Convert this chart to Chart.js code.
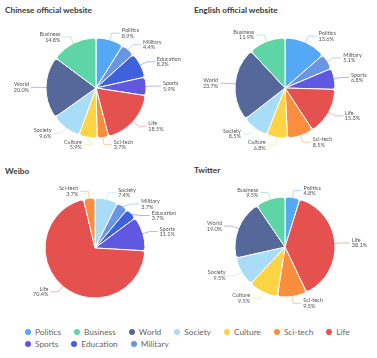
<!DOCTYPE html>
<html>
<head>
<meta charset="utf-8">
<script src="https://cdn.jsdelivr.net/npm/chart.js@4/dist/chart.umd.min.js"></script>
<style>
  html,body{margin:0;padding:0;background:#fff;width:377px;height:358px;overflow:hidden;position:relative;font-family:Lato,"Open Sans",sans-serif;}
  canvas{position:absolute;}
  .title{position:absolute;font-size:8.3px;font-weight:700;color:#3a3a3a;line-height:10px;white-space:nowrap;}
  #legend{position:absolute;left:25px;top:327px;width:340px;display:flex;flex-wrap:wrap;column-gap:13px;row-gap:3px;font-size:8.3px;color:#666;}
  .li{display:flex;align-items:center;height:9px;}
  .dot{width:6px;height:6px;border-radius:50%;margin-right:4px;}
</style>
</head>
<body>
<div class="title" style="left:5px;top:5px">Chinese official website</div>
<div class="title" style="left:194px;top:5px">English official website</div>
<div class="title" style="left:5px;top:166px">Weibo</div>
<div class="title" style="left:194px;top:165px">Twitter</div>
<canvas id="c1" width="190" height="150" style="left:1px;top:13px"></canvas>
<canvas id="c2" width="190" height="150" style="left:190px;top:13px"></canvas>
<canvas id="c3" width="190" height="150" style="left:0px;top:173px"></canvas>
<canvas id="c4" width="190" height="150" style="left:190px;top:172px"></canvas>
<div id="legend"></div>
<script>
// Legend categories and colours
const categories = ["Politics","Business","World","Society","Culture","Sci-tech","Life","Sports","Education","Military"];
const categoryColors = ["#55a8f3","#5dd5a6","#56679a","#a9dcf6","#fdd444","#fb8e3e","#e5514f","#6158e2","#3f61dc","#6a95e2"];

// Chinese official website (clockwise from top)
const chineseLabels = ["Politics","Military","Education","Sports","Life","Sci-tech","Culture","Society","World","Business"];
const chineseValues = [8.9,4.4,8.2,5.9,18.5,3.7,5.9,9.6,20.0,14.8];

// English official website
const englishLabels = ["Politics","Military","Sports","Life","Sci-tech","Culture","Society","World","Business"];
const englishValues = [13.6,5.1,6.8,15.3,8.5,6.8,8.5,23.7,11.9];

// Weibo
const weiboLabels = ["Society","Military","Education","Sports","Life","Sci-tech"];
const weiboValues = [7.4,3.7,3.7,11.1,70.4,3.7];

// Twitter
const twitterLabels = ["Politics","Life","Sci-tech","Culture","Society","World","Business"];
const twitterValues = [4.8,38.1,9.5,9.5,9.5,19.0,9.5];

function colorOf(name){ return categoryColors[categories.indexOf(name)]; }

const LEN1 = 7, LEN2 = 8, MIN_GAP = 11.5;

const labelPlugin = {
  id: 'pieLabels',
  afterDatasetsDraw(chart){
    const ctx = chart.ctx;
    const meta = chart.getDatasetMeta(0);
    const ds = chart.data.datasets[0];
    const items = meta.data.map((arc, i) => {
      const p = arc.getProps(['x','y','startAngle','endAngle','outerRadius'], true);
      const mid = (p.startAngle + p.endAngle) / 2;
      const c = Math.cos(mid), s = Math.sin(mid);
      const r = p.outerRadius;
      return {
        i, cx: p.x, cy: p.y, r, right: c >= 0,
        x0: p.x + c * (r - 1), y0: p.y + s * (r - 1),
        x1: p.x + c * (r + LEN1), y1: p.y + s * (r + LEN1)
      };
    });
    // simple overlap avoidance per side (push downward)
    [true, false].forEach(side => {
      const list = items.filter(it => it.right === side).sort((a, b) => a.y1 - b.y1);
      for (let k = 1; k < list.length; k++) {
        const prev = list[k - 1], cur = list[k];
        if (cur.y1 - prev.y1 < MIN_GAP) {
          cur.y1 = prev.y1 + MIN_GAP;
          const R = cur.r + LEN1;
          const dy = cur.y1 - cur.cy;
          if (Math.abs(dy) < R) {
            const dx = Math.sqrt(R * R - dy * dy);
            cur.x1 = cur.cx + (side ? dx : -dx);
          }
        }
      }
    });
    ctx.save();
    items.forEach(it => {
      const x2 = it.x1 + (it.right ? LEN2 : -LEN2);
      ctx.globalAlpha = 0.55;
      ctx.strokeStyle = ds.backgroundColor[it.i];
      ctx.lineWidth = 0.8;
      ctx.beginPath();
      ctx.moveTo(it.x0, it.y0); ctx.lineTo(it.x1, it.y1); ctx.lineTo(x2, it.y1);
      ctx.stroke();
      ctx.globalAlpha = 1;
      ctx.fillStyle = '#555';
      ctx.font = '5.5px Lato, "Open Sans", sans-serif';
      ctx.textAlign = it.right ? 'left' : 'right';
      ctx.textBaseline = 'middle';
      const tx = x2 + (it.right ? 2 : -2);
      ctx.fillText(chart.data.labels[it.i], tx, it.y1 - 2.7);
      ctx.fillText(ds.data[it.i].toFixed(1) + '%', tx, it.y1 + 2.7);
    });
    ctx.restore();
  }
};

function makePie(id, labels, values){
  new Chart(document.getElementById(id), {
    type: 'pie',
    data: {
      labels: labels,
      datasets: [{
        data: values,
        backgroundColor: labels.map(colorOf),
        borderColor: '#ffffff',
        borderWidth: 1,
        borderRadius: 3,
        radius: 50
      }]
    },
    options: {
      responsive: false,
      animation: false,
      events: [],
      layout: { padding: 0 },
      plugins: { legend: { display: false }, tooltip: { enabled: false }, title: { display: false } }
    },
    plugins: [labelPlugin]
  });
}

makePie('c1', chineseLabels, chineseValues);
makePie('c2', englishLabels, englishValues);
makePie('c3', weiboLabels, weiboValues);
makePie('c4', twitterLabels, twitterValues);

const leg = document.getElementById('legend');
categories.forEach((name, i) => {
  const d = document.createElement('div');
  d.className = 'li';
  d.innerHTML = '<span class="dot" style="background:' + categoryColors[i] + '"></span><span>' + name + '</span>';
  leg.appendChild(d);
});
</script>
</body>
</html>
